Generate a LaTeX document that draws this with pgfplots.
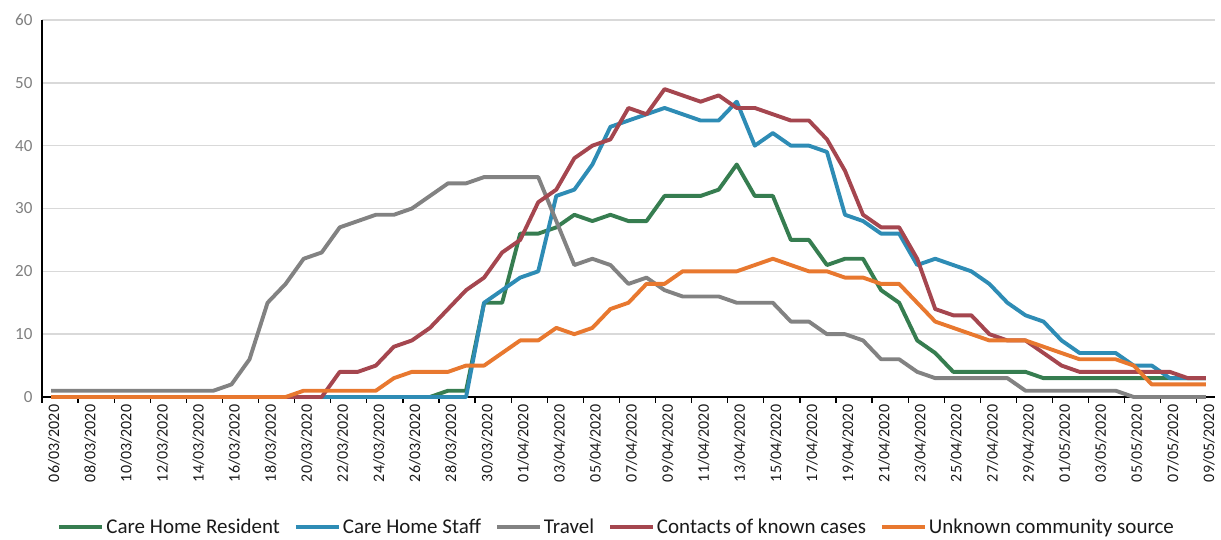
\documentclass[border=0pt]{standalone}
\usepackage{fontspec}
\setmainfont{Carlito}
\usepackage{pgfplots}
\pgfplotsset{compat=1.18}
\usepackage{pgfplotstable}
\definecolor{cres}{HTML}{367D50}
\definecolor{cstaff}{HTML}{2E8CB5}
\definecolor{ctravel}{HTML}{828282}
\definecolor{ccont}{HTML}{A5464F}
\definecolor{cunk}{HTML}{E8782F}
\definecolor{gridgray}{HTML}{D9D9D9}
\definecolor{ylab}{HTML}{7F7F7F}
\definecolor{xlab}{HTML}{1A1A1A}
\pgfplotstableread{
i res staff travel contacts unknown
0 0 0 1 0 0
1 0 0 1 0 0
2 0 0 1 0 0
3 0 0 1 0 0
4 0 0 1 0 0
5 0 0 1 0 0
6 0 0 1 0 0
7 0 0 1 0 0
8 0 0 1 0 0
9 0 0 1 0 0
10 0 0 2 0 0
11 0 0 6 0 0
12 0 0 15 0 0
13 0 0 18 0 0
14 0 0 22 0 1
15 0 0 23 0 1
16 0 0 27 4 1
17 0 0 28 4 1
18 0 0 29 5 1
19 0 0 29 8 3
20 0 0 30 9 4
21 0 0 32 11 4
22 1 0 34 14 4
23 1 0 34 17 5
24 15 15 35 19 5
25 15 17 35 23 7
26 26 19 35 25 9
27 26 20 35 31 9
28 27 32 28 33 11
29 29 33 21 38 10
30 28 37 22 40 11
31 29 43 21 41 14
32 28 44 18 46 15
33 28 45 19 45 18
34 32 46 17 49 18
35 32 45 16 48 20
36 32 44 16 47 20
37 33 44 16 48 20
38 37 47 15 46 20
39 32 40 15 46 21
40 32 42 15 45 22
41 25 40 12 44 21
42 25 40 12 44 20
43 21 39 10 41 20
44 22 29 10 36 19
45 22 28 9 29 19
46 17 26 6 27 18
47 15 26 6 27 18
48 9 21 4 22 15
49 7 22 3 14 12
50 4 21 3 13 11
51 4 20 3 13 10
52 4 18 3 10 9
53 4 15 3 9 9
54 4 13 1 9 9
55 3 12 1 7 8
56 3 9 1 5 7
57 3 7 1 4 6
58 3 7 1 4 6
59 3 7 1 4 6
60 3 5 0 4 5
61 3 5 0 4 2
62 3 3 0 4 2
63 3 3 0 3 2
64 3 3 0 3 2
}\data
\begin{document}
\begin{tikzpicture}[x=1pt,y=1pt]
\useasboundingbox (-42,-143) rectangle (1179,397);
\begin{axis}[
  at={(0,0)}, anchor=south west,
  scale only axis, width=1173pt, height=377pt,
  xmin=-0.5, xmax=64.5, ymin=0, ymax=60,
  axis x line*=bottom, axis y line*=left,
  axis line style={-, black, line width=1.3pt},
  ytick={0,10,...,60},
  ytick style={draw=none},
  ymajorgrids,
  major grid style={gridgray, line width=1.5pt},
  xtick={0,2,...,64},
  xticklabels={06/03/2020,08/03/2020,10/03/2020,12/03/2020,14/03/2020,16/03/2020,18/03/2020,20/03/2020,22/03/2020,24/03/2020,26/03/2020,28/03/2020,30/03/2020,01/04/2020,03/04/2020,05/04/2020,07/04/2020,09/04/2020,11/04/2020,13/04/2020,15/04/2020,17/04/2020,19/04/2020,21/04/2020,23/04/2020,25/04/2020,27/04/2020,29/04/2020,01/05/2020,03/05/2020,05/05/2020,07/05/2020,09/05/2020},
  major x tick style={draw=none},
  minor xtick={-0.5,1.5,...,63.5},
  minor x tick style={black, line width=1.2pt},
  minor tick length=6pt,
  xtick align=outside,
  /pgf/number format/assume math mode=true,
  x tick label style={rotate=90, anchor=east, font=\fontsize{16}{17}\selectfont, text=xlab, yshift=-3pt},
  y tick label style={font=\fontsize{17}{18}\selectfont, text=ylab, xshift=-6pt},
  legend style={at={(0.49,-0.345)}, anchor=center, draw=none, fill=none,
    font=\fontsize{21}{24}\selectfont, text=xlab,
    /tikz/every even column/.append style={column sep=12pt}},
  legend columns=5,
  legend image code/.code={\draw[#1] (0pt,0pt) -- (43pt,0pt);},
  every axis plot/.append style={line width=3.9pt, line join=round, no markers},
  clip=false,
]
\addplot[cres] table[x=i, y=res] {\data};
\addlegendentry{Care Home Resident}
\addplot[cstaff] table[x=i, y=staff] {\data};
\addlegendentry{Care Home Staff}
\addplot[ctravel] table[x=i, y=travel] {\data};
\addlegendentry{Travel}
\addplot[ccont] table[x=i, y=contacts] {\data};
\addlegendentry{Contacts of known cases}
\addplot[cunk] table[x=i, y=unknown] {\data};
\addlegendentry{Unknown community source}
\end{axis}
\end{tikzpicture}
\end{document}
